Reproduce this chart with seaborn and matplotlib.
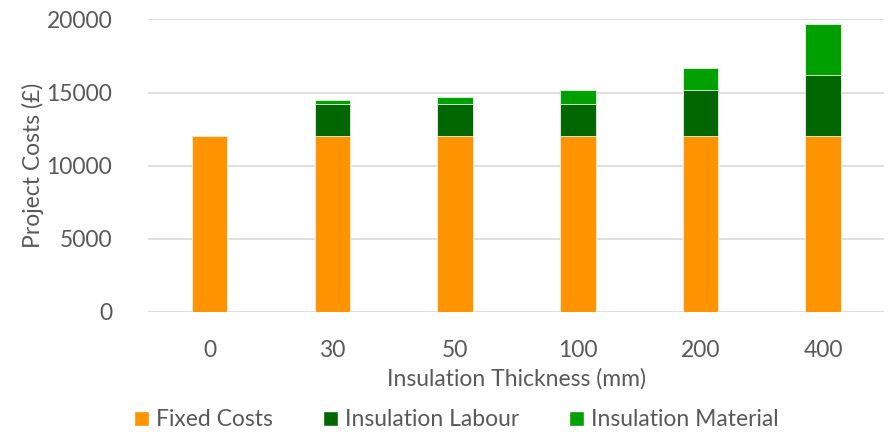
import seaborn as sns
import matplotlib
matplotlib.use('Agg')
import matplotlib.pyplot as plt
from matplotlib.patches import Patch
import pandas as pd

sns.set_theme(style="white")
plt.rcParams['font.family'] = ['Lato', 'DejaVu Sans']

# data
thickness = ['0', '30', '50', '100', '200', '400']
fixed_costs = [12000, 12000, 12000, 12000, 12000, 12000]
labour = [0, 2250, 2250, 2250, 3200, 4200]
material = [0, 250, 450, 950, 1500, 3500]

SERIES = ['Fixed Costs', 'Insulation Labour', 'Insulation Material']
COLORS = ['#FF9300', '#006600', '#00A000']
TEXT_COLOR = '#595959'
FS = 16.5

df = pd.DataFrame({'thickness': thickness, 'fixed': fixed_costs,
                   'labour': labour, 'material': material})
df['fixed_labour'] = df['fixed'] + df['labour']
df['total'] = df['fixed_labour'] + df['material']

fig = plt.figure(figsize=(8.88, 4.32), dpi=100)
ax = fig.add_axes([0.167, 0.278, 0.829, 0.677])

# stacked bars drawn from the top down
for col, color in zip(['total', 'fixed_labour', 'fixed'], COLORS[::-1]):
    sns.barplot(data=df, x='thickness', y=col, color=color, width=0.29,
                saturation=1, ax=ax, order=thickness, linewidth=0.6,
                edgecolor='#e8f5e0')

ax.set_ylim(0, 20000)
ax.set_yticks([0, 5000, 10000, 15000, 20000])
ax.yaxis.grid(True, color='#d9d9d9', linewidth=1.2)
ax.set_axisbelow(True)
sns.despine(ax=ax, left=True, bottom=True)
ax.tick_params(axis='both', length=0, labelsize=FS, colors=TEXT_COLOR)
ax.tick_params(axis='x', pad=20)
ax.tick_params(axis='y', pad=26)

ax.set_xlabel('Insulation Thickness (mm)', fontsize=FS, color=TEXT_COLOR, labelpad=5)
ax.set_ylabel('Project Costs (£)', fontsize=FS, color=TEXT_COLOR, labelpad=2)

handles = [Patch(facecolor=c, label=s) for s, c in zip(SERIES, COLORS)]
fig.legend(handles=handles, loc='lower center', bbox_to_anchor=(0.514, -0.044),
           ncol=3, frameon=False, fontsize=FS, labelcolor=TEXT_COLOR,
           handlelength=0.65, handleheight=0.65, handletextpad=0.3, columnspacing=2.2)

plt.savefig('out.png', dpi=100)
